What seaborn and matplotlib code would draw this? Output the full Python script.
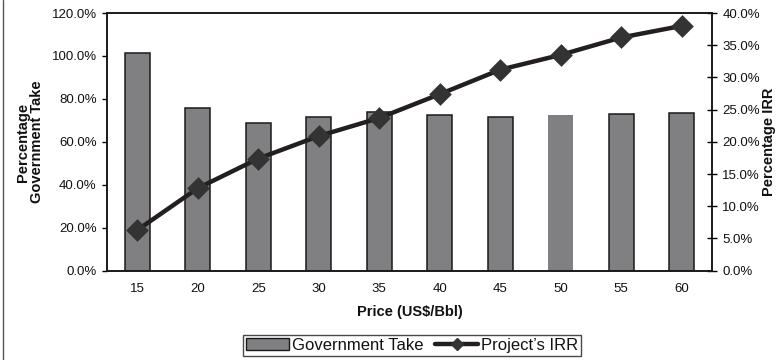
import numpy as np
import pandas as pd
import matplotlib
matplotlib.use("Agg")
import matplotlib.pyplot as plt
from matplotlib.lines import Line2D
from matplotlib.patches import Patch
from matplotlib.ticker import FixedLocator, PercentFormatter
import seaborn as sns

# Oil price scenarios (US$/Bbl)
prices = [15, 20, 25, 30, 35, 40, 45, 50, 55, 60]
# Government take, % of project cash flow
gov_take = [101.2, 75.6, 68.6, 71.4, 73.8, 72.4, 71.6, 72.5, 72.8, 73.6]
# Project internal rate of return, %
project_irr = [6.3, 12.8, 17.4, 20.9, 23.7, 27.4, 31.2, 33.5, 36.2, 38.0]

df = pd.DataFrame({"price": prices, "gov_take": gov_take, "irr": project_irr})

sns.set_theme(style="white")
plt.rcParams["font.family"] = ["Liberation Sans", "DejaVu Sans"]

BAR_GREY = "#808082"
LINE_DARK = "#231f20"
MARK_DARK = "#333333"
TEXT = "#111111"

fig = plt.figure(figsize=(7.78, 3.6), dpi=100)
ax = fig.add_axes([107 / 778, 1 - 270.7 / 360, (712 - 107) / 778, (270.7 - 13) / 360])

sns.barplot(data=df, x="price", y="gov_take", ax=ax, color=BAR_GREY, saturation=1,
            width=0.41, edgecolor="#1a1a1a", linewidth=1.1)
# the 50 US$/Bbl column is drawn without an outline
ax.patches[prices.index(50)].set_linewidth(0)

ax2 = ax.twinx()
sns.pointplot(data=df, x="price", y="irr", ax=ax2, color=LINE_DARK, markers="D",
              errorbar=None, linewidth=3.2, markersize=9,
              markerfacecolor=MARK_DARK, markeredgecolor=MARK_DARK)

ax.set_xlim(-0.5, len(prices) - 0.5)
ax.set_ylim(0, 120)
ax2.set_ylim(0, 40)

ax.yaxis.set_major_locator(FixedLocator(np.arange(0, 121, 20)))
ax.yaxis.set_major_formatter(PercentFormatter(decimals=1))
ax2.yaxis.set_major_locator(FixedLocator(np.arange(0, 41, 5)))
ax2.yaxis.set_major_formatter(PercentFormatter(decimals=1))

# category labels centred, tick marks on category boundaries
ax.set_xticks(np.arange(-0.5, len(prices)), labels=[""] * (len(prices) + 1))
ax.set_xticks(np.arange(len(prices)), labels=[str(p) for p in prices], minor=True)
ax.tick_params(axis="x", which="major", direction="out", length=4, width=1, color="black")
ax.tick_params(axis="x", which="minor", length=0, pad=8.5, labelsize=9.5, labelcolor=TEXT)
ax.tick_params(axis="y", direction="out", length=3.5, width=1, color="black",
               labelsize=9.5, labelcolor=TEXT, pad=4, left=True)
ax2.tick_params(axis="y", direction="inout", length=7, width=1, color="black",
                labelsize=9.5, labelcolor=TEXT, pad=4, right=True)

ax.set_xlabel("")
ax.set_ylabel("")
ax2.set_xlabel("")
ax2.set_ylabel("")
ax.grid(False)
ax2.grid(False)

for a in (ax, ax2):
    for s in a.spines.values():
        s.set_color("#1a1a1a")
        s.set_linewidth(1.2)
        s.set_visible(True)

fig.text(30 / 778, 1 - 142 / 360, "Percentage\nGovernment Take", rotation=90,
         ha="center", va="center", multialignment="center",
         fontsize=10.5, fontweight="bold", color=TEXT, linespacing=1.05)
fig.text(769 / 778, 1 - 142 / 360, "Percentage IRR", rotation=90,
         ha="center", va="center", fontsize=10.5, fontweight="bold", color=TEXT)
fig.text(410 / 778, 1 - 312 / 360, "Price (US$/Bbl)", ha="center", va="center",
         fontsize=10.5, fontweight="bold", color=TEXT)

handles = [
    Patch(facecolor=BAR_GREY, edgecolor="#1a1a1a", linewidth=1.0),
    Line2D([], [], color=LINE_DARK, linewidth=3.2, marker="D", markersize=6.5,
           markerfacecolor=MARK_DARK, markeredgecolor=MARK_DARK),
]
leg = fig.legend(handles, ["Government Take", "Project\u2019s IRR"], ncol=2,
                 loc="center", bbox_to_anchor=(412 / 778, 1 - 345.5 / 360),
                 frameon=True, fancybox=False, fontsize=12, handlelength=2.6,
                 handletextpad=0.15, columnspacing=0.7, borderpad=0.2,
                 borderaxespad=0, handleheight=0.7)
leg.get_frame().set_edgecolor("#1a1a1a")
leg.get_frame().set_linewidth(1.0)
for t in leg.get_texts():
    t.set_color(TEXT)

# thin frame rule along the left edge of the chart
fig.add_artist(Line2D([3 / 778, 3 / 778], [0, 1], transform=fig.transFigure,
                      color="#555555", linewidth=1.0))

fig.savefig("out.png", dpi=100)
